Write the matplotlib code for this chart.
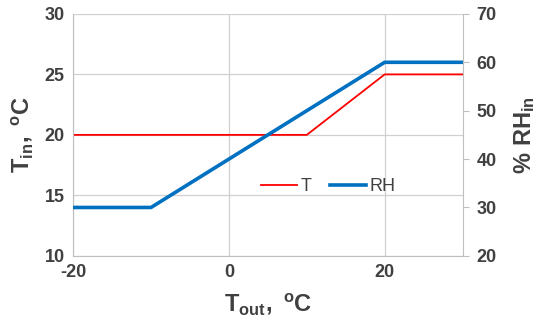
import matplotlib
matplotlib.use('Agg')
import matplotlib.pyplot as plt
from matplotlib.ticker import MultipleLocator

plt.rcParams['font.family'] = 'Liberation Sans'
plt.rcParams['axes.unicode_minus'] = False
plt.rcParams['mathtext.fontset'] = 'custom'
plt.rcParams['mathtext.rm'] = 'Liberation Sans:bold'
plt.rcParams['mathtext.it'] = 'Liberation Sans:bold'
plt.rcParams['mathtext.bf'] = 'Liberation Sans:bold'

# outdoor temperature breakpoints
t_out = [-20, -10, 10, 20, 30]
# indoor temperature setpoint, degC
t_in = [20, 20, 20, 25, 25]
# indoor relative humidity, %
rh_in = [30, 30, 50, 60, 60]

grey = '#404040'
grid_c = '#d0d0d0'

fig, ax = plt.subplots(figsize=(5.5, 3.31), dpi=100)
fig.subplots_adjust(left=0.133, right=0.841, top=0.958, bottom=0.227)
ax2 = ax.twinx()

ln1, = ax.plot(t_out, t_in, color='#ff0000', lw=1.3, label='T')
ln2, = ax2.plot(t_out, rh_in, color='#0070c0', lw=2.6, label='RH')

ax.set_xlim(-20, 30)
ax.set_ylim(10, 30)
ax2.set_ylim(20, 70)
ax.xaxis.set_major_locator(MultipleLocator(20))
ax.yaxis.set_major_locator(MultipleLocator(5))
ax2.yaxis.set_major_locator(MultipleLocator(10))

ax.grid(True, color=grid_c, lw=0.9)
ax.set_axisbelow(True)

for a in (ax, ax2):
    for s in a.spines.values():
        s.set_visible(False)
ax.spines['left'].set_visible(True)
ax.spines['bottom'].set_visible(True)
ax.spines['left'].set_color('#bfbfbf')
ax.spines['bottom'].set_color('#bfbfbf')
ax2.spines['right'].set_visible(True)
ax2.spines['right'].set_color('#bfbfbf')

ax.tick_params(axis='both', length=0, labelsize=13, labelcolor=grey, pad=6)
ax2.tick_params(axis='y', length=4, color='#bfbfbf', labelsize=13, labelcolor=grey, pad=6)
for lab in ax.get_xticklabels() + ax.get_yticklabels() + ax2.get_yticklabels():
    lab.set_fontweight('bold')

ax.set_xlabel(r'$\mathrm{T_{out},\ ^{o}C}$', fontsize=17, color=grey, labelpad=7)
ax.set_ylabel(r'$\mathrm{T_{in},\ ^{o}C}$', fontsize=17, color=grey, labelpad=7)
ax2.set_ylabel(r'$\mathrm{\%\ RH_{in}}$', fontsize=17, color=grey, labelpad=11)

leg = ax2.legend([ln1, ln2], ['T', 'RH'], loc='center', bbox_to_anchor=(0.655, 0.285),
                 ncol=2, frameon=False, fontsize=13, handlelength=2.0,
                 columnspacing=1.0, handletextpad=0.2, borderpad=0)
for t in leg.get_texts():
    t.set_color(grey)

fig.savefig('out.png', dpi=100)
